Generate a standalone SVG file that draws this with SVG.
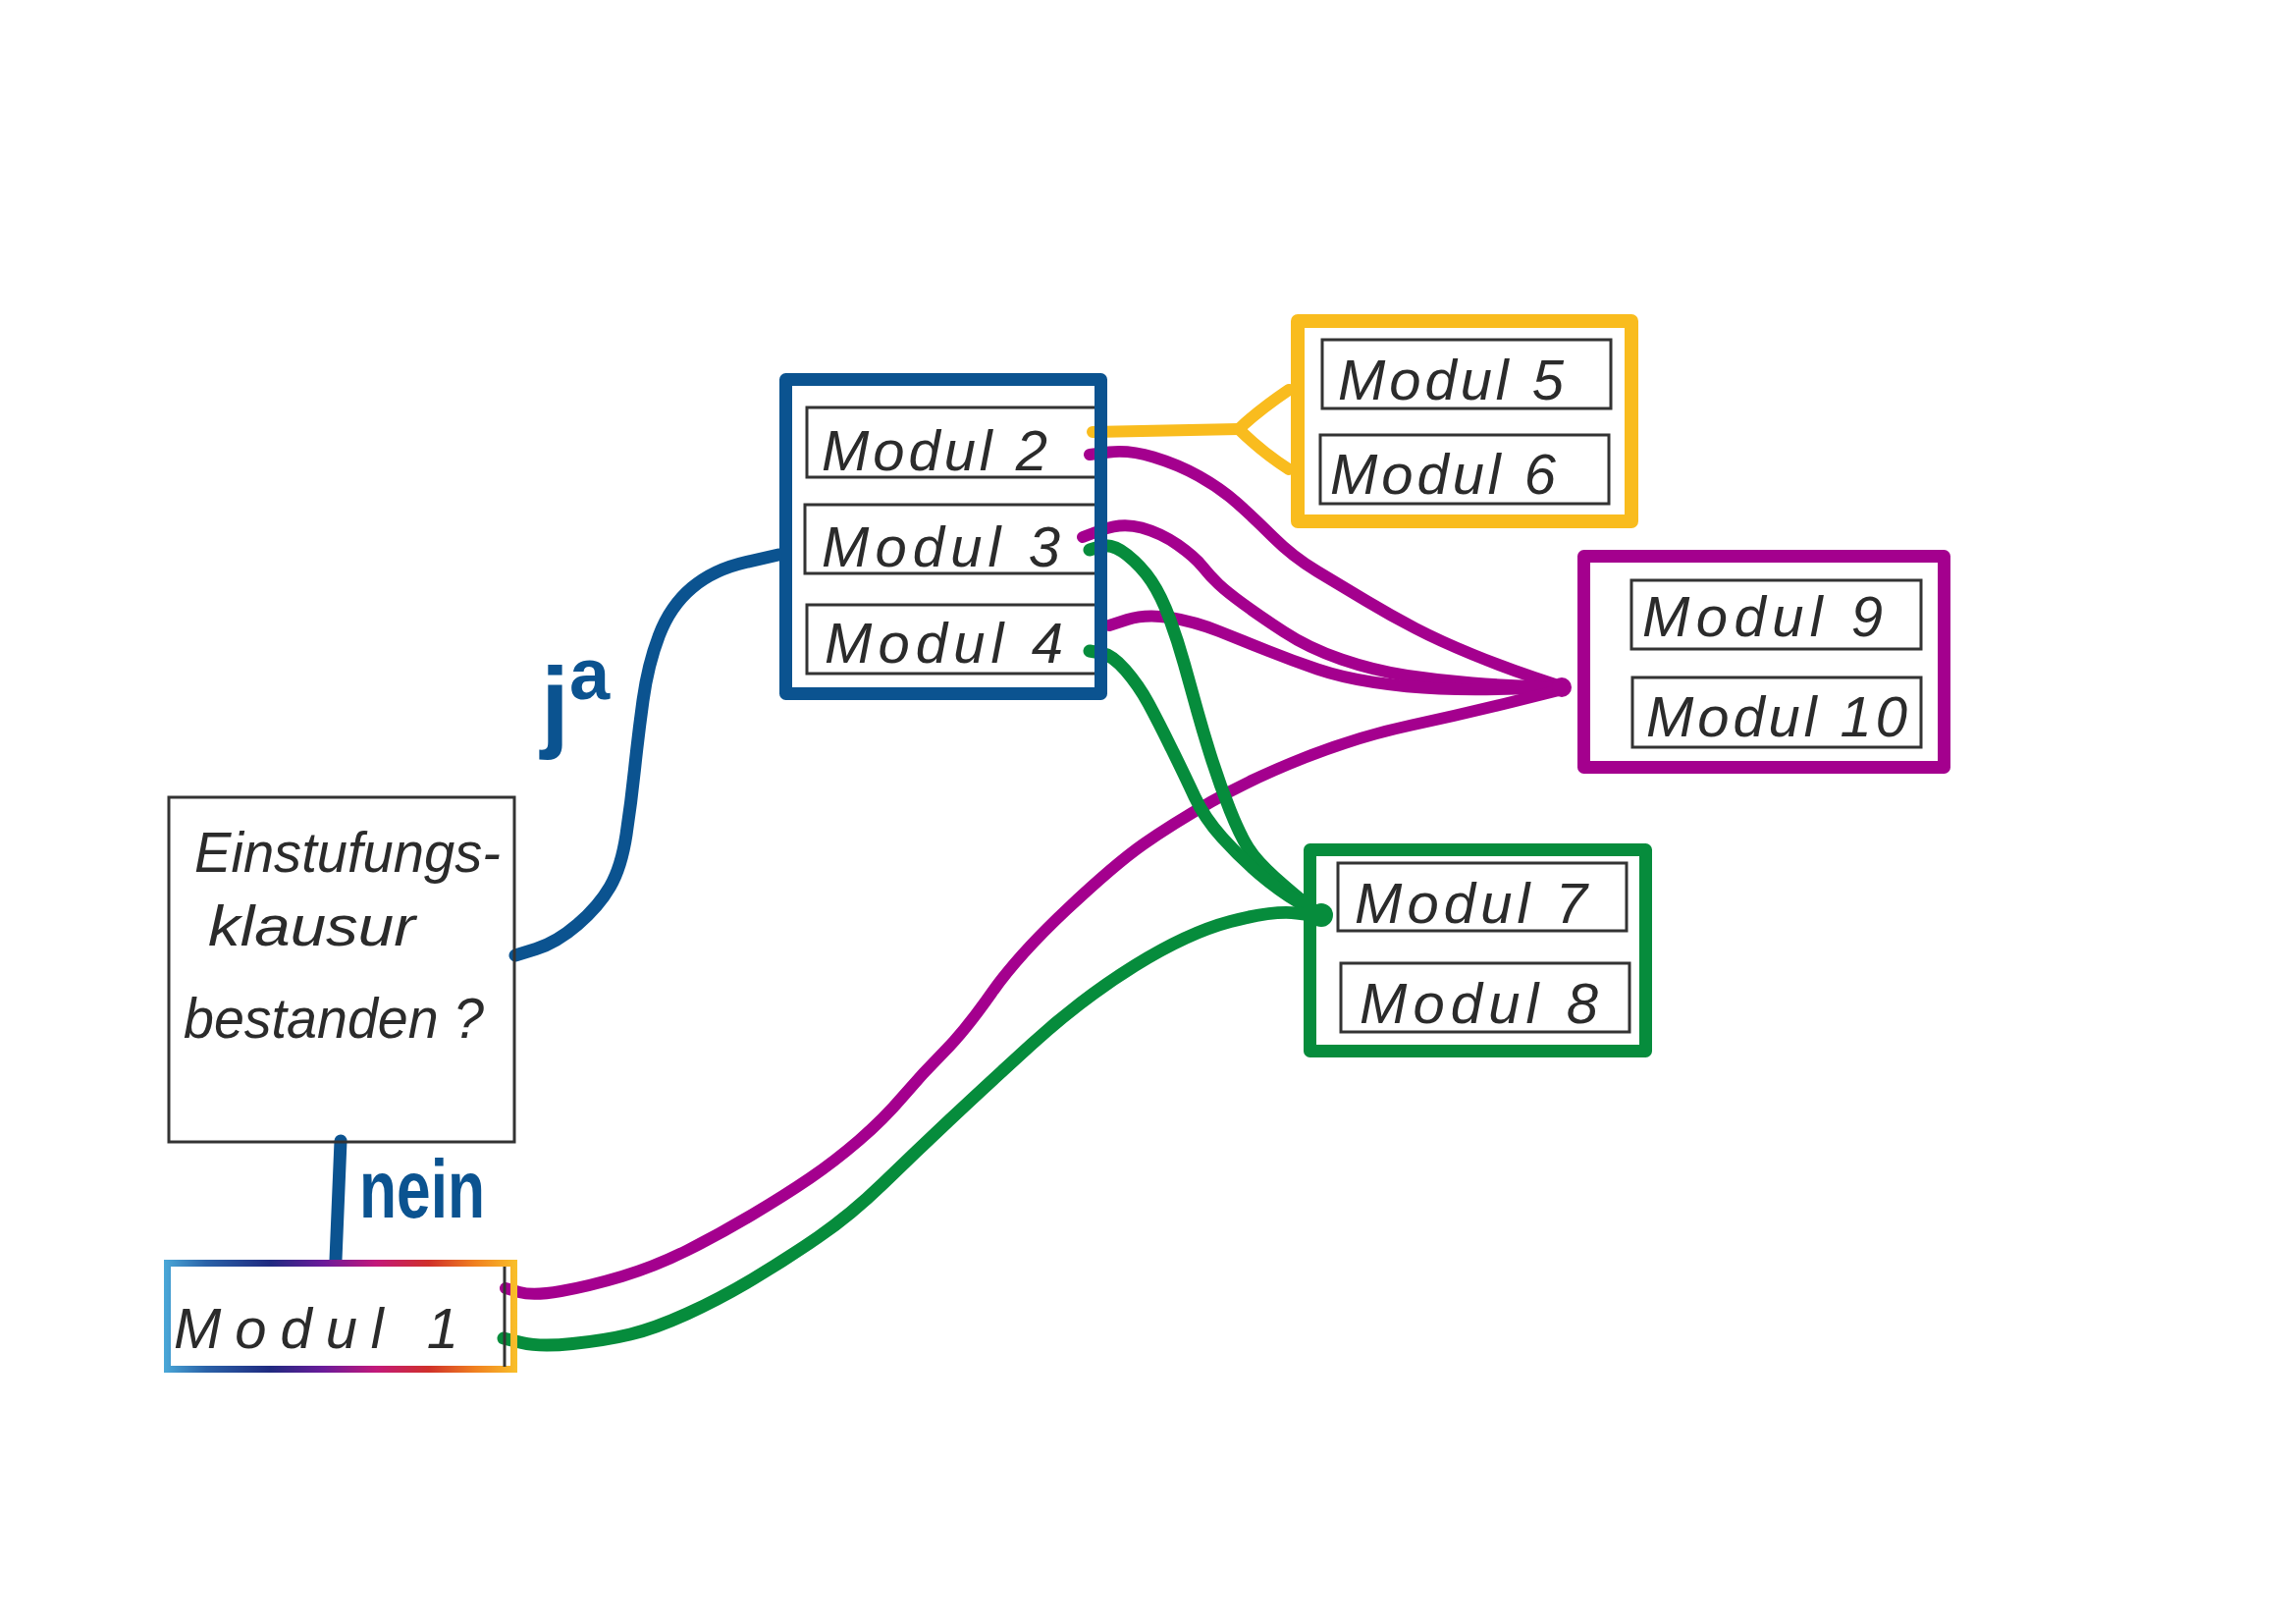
<svg xmlns="http://www.w3.org/2000/svg" width="2339" height="1654" viewBox="0 0 2339 1654">
<style>
.bg{fill:#ffffff}
.inner{fill:none;stroke:#333333;stroke-width:3}
.frame{fill:none;stroke-linejoin:round}
.hw{font-family:"Liberation Sans",Arial,sans-serif;font-style:italic;font-size:58px;fill:#2b2b2b}
.lbl{font-family:"Liberation Sans",Arial,sans-serif;font-weight:bold;fill:#0b5390}
.c{fill:none;stroke-linecap:round;stroke-linejoin:round}
.blue{stroke:#0b5390;stroke-width:13}
.yel{stroke:#f9bc1e;stroke-width:12}
.pur{stroke:#a4008e;stroke-width:12}
.grn{stroke:#068c3c;stroke-width:13}
</style>
<defs>
<linearGradient id="rainbow" gradientUnits="userSpaceOnUse" x1="167" y1="0" x2="527" y2="0">
<stop offset="0" stop-color="#4aa8d8"/>
<stop offset="0.12" stop-color="#2a62a8"/>
<stop offset="0.3" stop-color="#1f2a80"/>
<stop offset="0.45" stop-color="#6a1b9a"/>
<stop offset="0.6" stop-color="#c2187a"/>
<stop offset="0.75" stop-color="#d0302a"/>
<stop offset="0.88" stop-color="#f08020"/>
<stop offset="1" stop-color="#f9c02a"/>
</linearGradient>
</defs>
<rect class="bg" x="0" y="0" width="2339" height="1654"/>

<g id="connectors">
<path class="c blue" d="M525,973 L546,966.5 Q567,960 588.5,941.5 Q610,923 621.5,903 Q633,883 638,850 Q643,817 646.5,783.5 Q650,750 655,713.5 Q660,677 671.5,647 Q683,617 705,598.5 Q727,580 760,572.5 L793,565"/>
<path class="c blue" d="M347,1162 L342,1283"/>
<path class="c yel" d="M1113,440 L1262,437"/>
<path class="c yel" d="M1262,437 Q1282,418 1313,397"/>
<path class="c yel" d="M1262,437 Q1285,460 1313,478"/>
<path class="c pur" d="M1110,463 L1130,460.5 Q1150,458 1175,465.5 Q1200,473 1221.5,485 Q1243,497 1260,512 Q1277,527 1297,547 Q1317,567 1342,582 Q1367,597 1392,612 Q1417,627 1442,640 Q1467,653 1500,666.5 Q1533,680 1563,690 L1593,700"/>
<path class="c pur" d="M1103,547 L1123,539.5 Q1143,532 1163,537.5 Q1183,543 1200,555 Q1217,567 1225,577 Q1233,587 1241.5,595 Q1250,603 1266.5,615 Q1283,627 1308,643.5 Q1333,660 1366.5,671.5 Q1400,683 1433.5,688 Q1467,693 1500,695.5 Q1533,698 1563,699 L1593,700"/>
<path class="c pur" d="M1130,637 L1148.5,631 Q1167,625 1192,629 Q1217,633 1242,643 Q1267,653 1292,663 Q1317,673 1342,681.5 Q1367,690 1400,695 Q1433,700 1466.5,701.5 Q1500,703 1546.5,701.5 L1593,700"/>
<path class="c pur" d="M515,1312 L529,1316 Q543,1320 571.5,1315 Q600,1310 633.5,1300 Q667,1290 700,1273.5 Q733,1257 766.5,1237 Q800,1217 825,1200 Q850,1183 875,1161.5 Q900,1140 920,1116.5 Q940,1093 961.5,1071.5 Q983,1050 1010,1011.5 Q1037,973 1086.5,926.5 Q1136,880 1164.5,860 Q1193,840 1234,816.5 Q1275,793 1329.5,771.5 Q1384,750 1438,738.5 Q1492,727 1542,714.5 L1592,702"/>
<circle cx="1591" cy="700" r="10" fill="#a4008e"/>
<path class="c grn" d="M1110,560 L1121.5,556.5 Q1133,553 1148,565 Q1163,577 1173,592 Q1183,607 1191.5,630 Q1200,653 1206.5,676.5 Q1213,700 1220,725 Q1227,750 1235,775 Q1243,800 1253,825 Q1263,850 1271.5,863.5 Q1280,877 1298.5,893.5 Q1317,910 1331,921 L1345,932"/>
<path class="c grn" d="M1110,663 L1121.5,665 Q1133,667 1146.5,682.5 Q1160,698 1170,716.5 Q1180,735 1193.5,762.5 Q1207,790 1217,811.5 Q1227,833 1245,853 Q1263,873 1283,890 Q1303,907 1324,919.5 L1345,932"/>
<path class="c grn" d="M513,1363 L531.5,1367.5 Q550,1372 583.5,1368.5 Q617,1365 642,1359 Q667,1353 700,1338 Q733,1323 766.5,1303 Q800,1283 833.5,1260 Q867,1237 900,1205 Q933,1173 966.5,1141.5 Q1000,1110 1051,1063.5 Q1102,1017 1156,983.5 Q1210,950 1253.5,938.5 Q1297,927 1321,930 L1345,933"/>
<circle cx="1346" cy="932" r="12" fill="#068c3c"/>
<text class="lbl" x="551" y="752" font-size="104">j<tspan dy="-40" font-size="74">a</tspan></text>
<text class="lbl" x="366" y="1240" font-size="84" textLength="128" lengthAdjust="spacingAndGlyphs">nein</text>
</g>

<g id="einstufung">
<rect class="inner" x="172" y="812" width="352" height="351"/>
<text class="hw" x="198" y="888" font-size="60" textLength="312" lengthAdjust="spacingAndGlyphs">Einstufungs-</text>
<text class="hw" x="212" y="963" font-size="60" textLength="211" lengthAdjust="spacingAndGlyphs">klausur</text>
<text class="hw" x="187" y="1057" font-size="60" textLength="306" lengthAdjust="spacingAndGlyphs">bestanden ?</text>
</g>

<g id="modul1">
<rect x="170.5" y="1286.5" width="353" height="108" fill="none" stroke="url(#rainbow)" stroke-width="7"/>
<line x1="514" y1="1290" x2="514" y2="1392" stroke="#333333" stroke-width="3"/>
<text class="hw" x="177" y="1373" font-size="70" textLength="290" lengthAdjust="spacing">Modul 1</text>
</g>

<g id="group-2-4">
<rect class="inner" x="822" y="415" width="296" height="71"/>
<text class="hw" x="837" y="479" textLength="230" lengthAdjust="spacing">Modul 2</text>
<rect class="inner" x="820" y="514" width="298" height="70"/>
<text class="hw" x="837" y="577" textLength="243" lengthAdjust="spacing">Modul 3</text>
<rect class="inner" x="822" y="616" width="296" height="70"/>
<text class="hw" x="840" y="675" textLength="243" lengthAdjust="spacing">Modul 4</text>
<rect class="frame" x="800.5" y="386.5" width="321" height="320" stroke="#0b5390" stroke-width="13"/>
</g>

<g id="group-5-6">
<rect class="inner" x="1347" y="346" width="294" height="70"/>
<text class="hw" x="1363" y="407" textLength="230" lengthAdjust="spacing">Modul 5</text>
<rect class="inner" x="1345" y="443" width="294" height="70"/>
<text class="hw" x="1355" y="503" textLength="230" lengthAdjust="spacing">Modul 6</text>
<rect class="frame" x="1322" y="327" width="340" height="204" stroke="#f9bc1e" stroke-width="14"/>
</g>

<g id="group-9-10">
<rect class="inner" x="1662" y="591" width="295" height="70"/>
<text class="hw" x="1673" y="648" textLength="245" lengthAdjust="spacing">Modul 9</text>
<rect class="inner" x="1663" y="690" width="294" height="71"/>
<text class="hw" x="1677" y="750" textLength="266" lengthAdjust="spacing">Modul 10</text>
<rect class="frame" x="1613.5" y="566.5" width="367" height="215" stroke="#a4008e" stroke-width="13"/>
</g>

<g id="group-7-8">
<rect class="inner" x="1363" y="879" width="294" height="69"/>
<text class="hw" x="1380" y="940" textLength="237" lengthAdjust="spacing">Modul 7</text>
<rect class="inner" x="1366" y="981" width="294" height="70"/>
<text class="hw" x="1385" y="1042" textLength="243" lengthAdjust="spacing">Modul 8</text>
<rect class="frame" x="1334.5" y="865.5" width="342" height="205" stroke="#068c3c" stroke-width="13"/>
</g>
</svg>
